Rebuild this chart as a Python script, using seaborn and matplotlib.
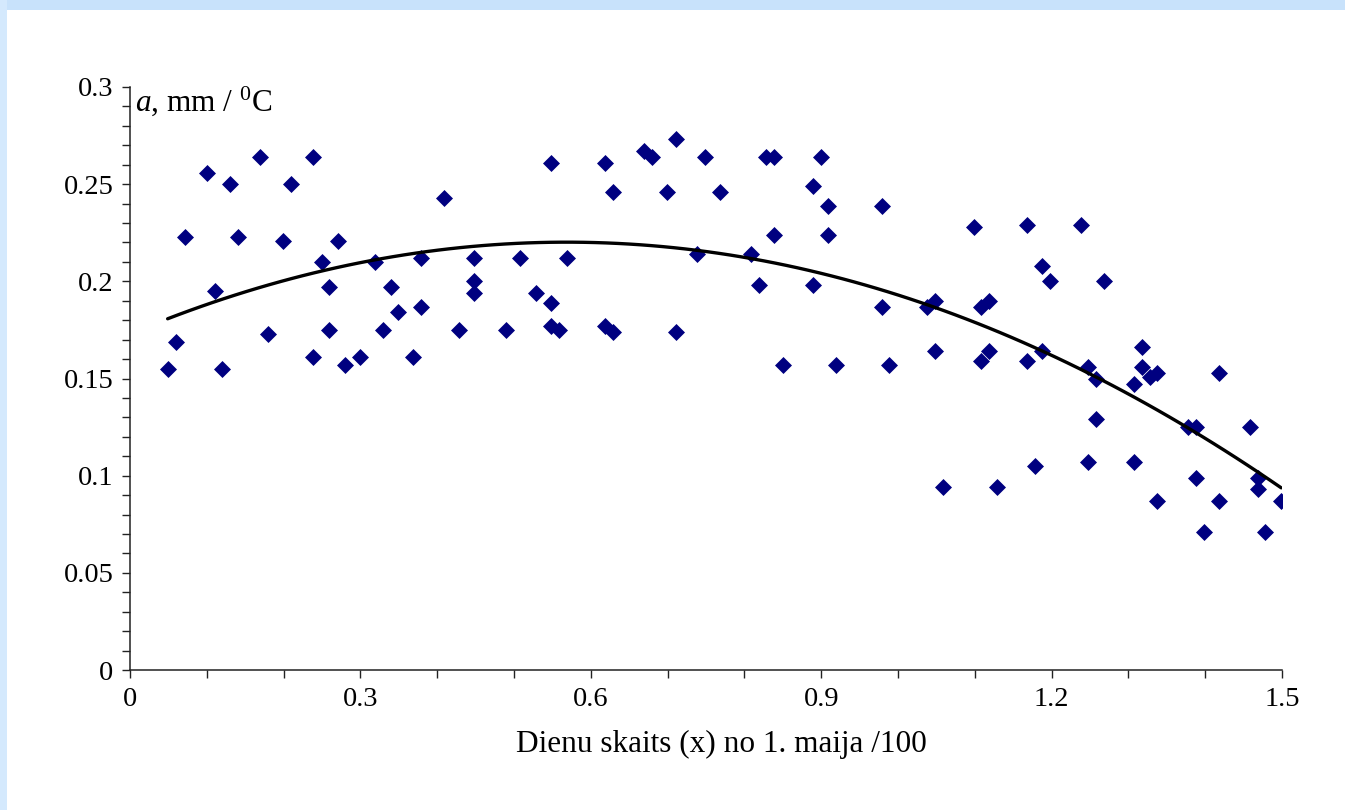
import numpy as np
import pandas as pd
import matplotlib
matplotlib.use("Agg")
import matplotlib.pyplot as plt
from matplotlib.ticker import MultipleLocator, FuncFormatter
from matplotlib.patches import Rectangle
import seaborn as sns

# ---- data ----
x_days = [0.049, 0.060, 0.072, 0.100, 0.111, 0.120, 0.130, 0.141, 0.169, 0.180,
          0.199, 0.210, 0.238, 0.238, 0.250, 0.259, 0.259, 0.271, 0.280, 0.300,
          0.319, 0.329, 0.340, 0.349, 0.368, 0.379, 0.379, 0.409, 0.428, 0.448,
          0.448, 0.448, 0.490, 0.508, 0.529, 0.548, 0.548, 0.548, 0.559, 0.569,
          0.618, 0.618, 0.629, 0.629, 0.669, 0.680, 0.699, 0.711, 0.711, 0.738,
          0.749, 0.768, 0.809, 0.819, 0.828, 0.839, 0.839, 0.850, 0.889, 0.889,
          0.900, 0.909, 0.909, 0.919, 0.979, 0.979, 0.988, 1.038, 1.048, 1.048,
          1.059, 1.099, 1.108, 1.108, 1.118, 1.118, 1.129, 1.168, 1.168, 1.178,
          1.188, 1.188, 1.198, 1.238, 1.247, 1.247, 1.258, 1.258, 1.268, 1.307,
          1.307, 1.318, 1.318, 1.328, 1.337, 1.337, 1.378, 1.388, 1.388, 1.398,
          1.418, 1.418, 1.458, 1.469, 1.469, 1.478, 1.499]
a_values = [0.155, 0.169, 0.223, 0.256, 0.195, 0.155, 0.250, 0.223, 0.264, 0.173,
            0.221, 0.250, 0.264, 0.161, 0.210, 0.197, 0.175, 0.221, 0.157, 0.161,
            0.210, 0.175, 0.197, 0.184, 0.161, 0.212, 0.187, 0.243, 0.175, 0.212,
            0.200, 0.194, 0.175, 0.212, 0.194, 0.261, 0.189, 0.177, 0.175, 0.212,
            0.261, 0.177, 0.174, 0.246, 0.267, 0.264, 0.246, 0.273, 0.174, 0.214,
            0.264, 0.246, 0.214, 0.198, 0.264, 0.264, 0.224, 0.157, 0.249, 0.198,
            0.264, 0.239, 0.224, 0.157, 0.239, 0.187, 0.157, 0.187, 0.190, 0.164,
            0.094, 0.228, 0.187, 0.159, 0.190, 0.164, 0.094, 0.229, 0.159, 0.105,
            0.208, 0.164, 0.200, 0.229, 0.156, 0.107, 0.150, 0.129, 0.200, 0.147,
            0.107, 0.166, 0.156, 0.151, 0.153, 0.087, 0.125, 0.125, 0.099, 0.071,
            0.087, 0.153, 0.125, 0.099, 0.093, 0.071, 0.087]

x_ticks = [0, 0.3, 0.6, 0.9, 1.2, 1.5]
y_ticks = [0, 0.05, 0.1, 0.15, 0.2, 0.25, 0.3]
x_label = "Dienu skaits (x) no 1. maija /100"
y_label = "$a$, mm / $^{0}$C"

df = pd.DataFrame({"x": x_days, "a": a_values})

sns.set_theme(style="white")
plt.rcParams["font.family"] = ["Liberation Serif", "DejaVu Serif"]
plt.rcParams["mathtext.fontset"] = "custom"
plt.rcParams["mathtext.rm"] = "Liberation Serif"
plt.rcParams["mathtext.it"] = "Liberation Serif:italic"

fig = plt.figure(figsize=(13.45, 8.10), dpi=100)
fig.patch.set_facecolor("white")
# light blue frame on top and left
fig.patches.append(Rectangle((0, 1 - 10 / 810), 1, 10 / 810, transform=fig.transFigure,
                             facecolor="#c8e2fb", edgecolor="none", zorder=0))
fig.patches.append(Rectangle((0, 0), 7 / 1345, 1, transform=fig.transFigure,
                             facecolor="#d4e9fd", edgecolor="none", zorder=0))

ax = fig.add_axes([130 / 1345, 1 - 670 / 810, (1282 - 130) / 1345, (670 - 87) / 810])
ax.set_facecolor("white")

sns.scatterplot(data=df, x="x", y="a", marker="D", s=75, color="#000080",
                linewidth=0, ax=ax, zorder=3)
sns.regplot(data=df, x="x", y="a", order=2, ci=None, scatter=False, ax=ax,
            line_kws={"color": "black", "lw": 2.4, "zorder": 4})

ax.set_xlim(0, 1.5)
ax.set_ylim(0, 0.3)
ax.set_xticks(x_ticks)
ax.set_yticks(y_ticks)
ax.xaxis.set_minor_locator(MultipleLocator(0.1))
ax.yaxis.set_minor_locator(MultipleLocator(0.01))
fmt = FuncFormatter(lambda v, p: f"{v:g}")
ax.xaxis.set_major_formatter(fmt)
ax.yaxis.set_major_formatter(fmt)

for s in ["top", "right"]:
    ax.spines[s].set_visible(False)
for s in ["left", "bottom"]:
    ax.spines[s].set_color("#222222")
    ax.spines[s].set_linewidth(1.1)

ax.tick_params(axis="both", which="both", direction="out", length=6, width=1.0,
               color="#222222", labelsize=20.5, labelcolor="#000000")
ax.tick_params(axis="x", which="both", bottom=True, pad=6)
ax.tick_params(axis="y", which="both", left=True, pad=6)

ax.set_xlabel(x_label, fontsize=22.5, color="#000000")
ax.xaxis.set_label_coords((721 - 130) / 1152, -60 / 583)
ax.set_ylabel("")
ax.text(0.004, 1.004, y_label, transform=ax.transAxes, ha="left", va="top",
        fontsize=22.5, color="#000000")

fig.savefig("out.png", dpi=100)
